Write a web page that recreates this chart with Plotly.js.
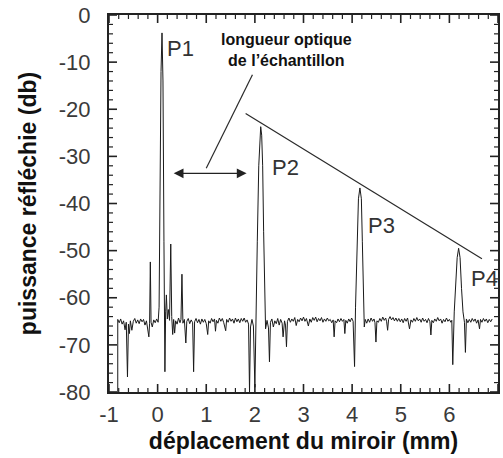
<!DOCTYPE html>
<html>
<head>
<meta charset="utf-8">
<script src="https://cdn.plot.ly/plotly-3.0.1.min.js"></script>
<style>html,body{margin:0;padding:0;background:#fff;}</style>
</head>
<body>
<div id="chart"></div>
<script>
// mirror displacement (mm) and reflected power (dB)
const displacement = [
-0.82,-0.82,-0.79,-0.76,-0.73,-0.70,-0.67,-0.645,-0.62,-0.60,-0.58,-0.56,-0.53,-0.50,-0.47,-0.44,-0.41,-0.38,-0.35,-0.32,-0.29,-0.26,-0.23,-0.20,-0.18,-0.165,-0.15,-0.135,-0.11,-0.08,-0.05,-0.02,
0.01,0.03,0.05,0.07,0.09,0.11,0.13,0.15,0.165,0.18,0.20,0.22,0.245,0.27,0.29,0.31,0.33,0.35,0.37,0.40,0.43,0.46,0.48,0.50,0.52,0.55,0.58,0.60,0.63,0.66,0.69,0.72,0.74,0.76,0.79,0.82,0.85,0.88,0.91,0.94,0.97,
1.00,1.03,1.05,1.08,1.11,1.14,1.17,1.19,1.21,1.24,1.27,1.30,1.33,1.36,1.40,1.42,1.45,1.48,1.51,1.54,1.57,1.60,1.63,1.66,1.69,1.72,1.75,1.78,1.81,1.84,1.87,1.89,1.91,1.94,1.97,
2.00,2.02,2.05,2.08,2.10,2.12,2.14,2.16,2.18,2.20,2.22,2.25,2.28,2.30,2.32,2.35,2.38,2.41,2.44,2.47,2.50,2.53,2.56,2.58,2.61,2.63,2.65,2.67,2.70,2.73,2.76,2.79,2.82,2.85,2.88,2.91,2.94,2.97,
3.00,3.03,3.06,3.10,3.13,3.16,3.19,3.22,3.25,3.28,3.31,3.34,3.37,3.40,3.43,3.46,3.49,3.52,3.55,3.58,3.61,3.63,3.65,3.68,3.71,3.74,3.77,3.80,3.83,3.85,3.87,3.90,3.93,3.96,3.99,
4.02,4.05,4.07,4.10,4.13,4.16,4.19,4.21,4.23,4.25,4.27,4.30,4.33,4.36,4.39,4.42,4.45,4.47,4.49,4.51,4.54,4.57,4.60,4.63,4.66,4.69,4.71,4.73,4.75,4.78,4.81,4.84,4.87,4.90,4.93,4.96,4.99,
5.02,5.05,5.08,5.11,5.14,5.18,5.21,5.24,5.27,5.30,5.33,5.36,5.39,5.42,5.45,5.48,5.51,5.54,5.57,5.60,5.62,5.64,5.67,5.70,5.73,5.76,5.79,5.82,5.85,5.88,5.91,5.94,5.97,
6.00,6.03,6.05,6.07,6.10,6.13,6.16,6.19,6.22,6.25,6.28,6.31,6.33,6.35,6.38,6.41,6.44,6.47,6.50,6.53,6.56,6.59,6.62,6.64,6.67,6.70,6.73,6.76,6.79,6.82,6.85,6.88
];
const powerDb = [
-80,-64.6,-65.3,-64.5,-65.6,-64.9,-66.8,-65.2,-76.8,-65.6,-67.6,-64.9,-66.9,-65.0,-64.4,-65.4,-64.7,-65.5,-64.5,-65.1,-64.6,-65.8,-64.9,-67.6,-68.3,-65.4,-52.4,-65.2,-66.2,-64.7,-65.3,-64.5,
-65.2,-62.0,-35,-12,-3.8,-14,-48,-75.7,-63.0,-59.4,-64.5,-62.5,-64.8,-48.6,-64.0,-67.8,-64.6,-67.5,-64.9,-65.6,-64.3,-65.3,-64.6,-55.0,-65.4,-64.6,-69.6,-65.0,-64.4,-65.5,-64.7,-65.3,-75.7,-65.1,-64.4,-65.3,-64.6,-65.6,-64.5,-65.2,-64.6,
-65.5,-67.8,-64.9,-65.4,-64.4,-65.1,-64.5,-67.1,-64.8,-65.4,-64.3,-65.0,-64.4,-65.3,-67.0,-64.6,-65.2,-64.3,-65.0,-64.5,-65.4,-64.3,-65.1,-64.5,-65.3,-64.4,-65.0,-64.3,-65.2,-64.7,-65.6,-80,-66.2,-64.6,-66.0,
-79.0,-63.0,-48,-32,-25.5,-23.7,-25.5,-32,-46,-62,-66.6,-64.8,-66.4,-73.6,-65.2,-64.5,-66.2,-64.9,-65.5,-64.4,-65.8,-64.6,-65.4,-68.3,-64.9,-65.8,-70.4,-65.0,-64.3,-65.2,-64.5,-65.0,-64.2,-65.9,-64.6,-65.1,-64.3,-64.9,
-64.1,-65.0,-64.4,-66.0,-64.5,-65.2,-64.2,-64.8,-64.1,-65.1,-64.4,-64.9,-64.2,-65.2,-64.5,-65.0,-64.3,-64.9,-64.6,-65.3,-64.7,-68.3,-64.9,-65.3,-64.5,-65.1,-64.4,-65.0,-64.6,-67.6,-64.8,-65.4,-64.5,-65.1,-64.3,
-65.0,-74.6,-62,-48,-39,-36.7,-39,-48,-60,-66.2,-64.6,-65.4,-64.5,-65.2,-64.3,-65.0,-64.5,-65.3,-69.4,-64.9,-65.2,-64.4,-65.0,-64.1,-64.8,-64.3,-65.1,-66.9,-64.6,-64.0,-64.7,-64.2,-64.9,-64.3,-65.0,-64.4,-65.1,
-64.5,-65.3,-64.4,-65.0,-64.3,-66.6,-64.7,-65.2,-64.4,-65.0,-64.2,-64.9,-64.5,-65.2,-64.3,-65.0,-64.6,-65.3,-64.4,-65.1,-67.9,-64.8,-65.3,-64.5,-65.0,-64.2,-64.9,-64.5,-65.4,-64.6,-65.1,-64.3,-65.0,
-64.6,-65.2,-64.8,-74.2,-63,-58,-51.5,-49.5,-51.5,-58,-63,-65.2,-71.6,-64.5,-65.3,-64.6,-65.2,-64.4,-65.0,-64.5,-65.4,-64.7,-66.6,-64.6,-65.2,-64.4,-65.0,-64.5,-65.3,-64.6,-65.1,-64.5
];

// tick labels
const xTickVals = [-1,0,1,2,3,4,5,6,7];
const xTickText = ['-1','0','1','2','3','4','5','6','7'];
const yTickVals = [0,-10,-20,-30,-40,-50,-60,-70,-80];
const yTickText = ['0','-10','-20','-30','-40','-50','-60','-70','-80'];

// peak labels
const peakNames = ['P1','P2','P3','P4'];
const peakLabelX = [0.47, 2.62, 4.61, 6.72];
const peakLabelY = [-7.2, -32.4, -44.6, -56.0];

// annotation guide lines (data coordinates)
const envelopeX = [1.81, 6.67];
const envelopeY = [-20.9, -51.7];
const pointerX = [1.95, 1.00];
const pointerY = [-12.7, -32.5];
const thicknessX = [0.30, 1.83];
const thicknessY = [-33.6, -33.6];
const noteText = 'longueur optique<br>de l\u2019échantillon';
const noteX = 2.65, noteY = -7.4;

const FONT = 'Liberation Sans, Arial, Helvetica, sans-serif';
const TICK = '#222';

// minor tick positions (every 0.2 mm and every 2 dB)
const xMinorVals = [];
for (let i = -5; i <= 35; i++) if (i % 5 !== 0) xMinorVals.push(i / 5);
const yMinorVals = [];
for (let i = -40; i <= 0; i++) if (i % 5 !== 0) yMinorVals.push(2 * i);

// inside tick marks on all four sides, placed through the axis scales
const shapes = [];
function xTick(v, len, w) {
  shapes.push({type: 'line', xref: 'x', yref: 'paper', x0: v, x1: v,
    ysizemode: 'pixel', yanchor: 0, y0: 0, y1: len, line: {color: TICK, width: w}});
  shapes.push({type: 'line', xref: 'x', yref: 'paper', x0: v, x1: v,
    ysizemode: 'pixel', yanchor: 1, y0: 0, y1: -len, line: {color: TICK, width: w}});
}
function yTick(v, len, w) {
  shapes.push({type: 'line', yref: 'y', xref: 'paper', y0: v, y1: v,
    xsizemode: 'pixel', xanchor: 0, x0: 0, x1: len, line: {color: TICK, width: w}});
  shapes.push({type: 'line', yref: 'y', xref: 'paper', y0: v, y1: v,
    xsizemode: 'pixel', xanchor: 1, x0: 0, x1: -len, line: {color: TICK, width: w}});
}
xTickVals.forEach(v => xTick(v, 8, 1.6));
xMinorVals.forEach(v => xTick(v, 4, 1.2));
yTickVals.forEach(v => yTick(v, 8, 1.6));
yMinorVals.forEach(v => yTick(v, 4, 1.2));

const traces = [
  {x: displacement, y: powerDb, type: 'scatter', mode: 'lines',
   line: {color: '#1a1a1a', width: 1}, showlegend: false},
  {x: envelopeX, y: envelopeY, type: 'scatter', mode: 'lines',
   line: {color: '#2a2a2a', width: 1.2}, showlegend: false},
  {x: pointerX, y: pointerY, type: 'scatter', mode: 'lines',
   line: {color: '#2a2a2a', width: 1.2}, showlegend: false}
];

const annotations = peakNames.map((t, i) => ({
  x: peakLabelX[i], y: peakLabelY[i], xref: 'x', yref: 'y', text: t,
  showarrow: false, font: {family: FONT, size: 22, color: '#333'}
}));
annotations.push({
  x: noteX, y: noteY, xref: 'x', yref: 'y', text: '<b>' + noteText + '</b>', showarrow: false,
  font: {family: FONT, size: 16, color: '#111'}
});
annotations.push({
  x: thicknessX[1], y: thicknessY[1], ax: thicknessX[0], ay: thicknessY[0],
  xref: 'x', yref: 'y', axref: 'x', ayref: 'y', text: '', showarrow: true,
  arrowside: 'end+start', arrowhead: 2, arrowsize: 1.4, arrowwidth: 1.4,
  arrowcolor: '#222', standoff: 0, startstandoff: 0
});

const layout = {
  width: 503, height: 458,
  margin: {l: 109, r: 5, t: 15, b: 66},
  showlegend: false,
  xaxis: {
    range: [-1, 7], tickmode: 'array', tickvals: xTickVals, ticktext: xTickText,
    showline: true, linecolor: '#222', linewidth: 2, mirror: true,
    ticks: 'outside', ticklen: 2, tickcolor: 'rgba(0,0,0,0)',
    showgrid: false, zeroline: false,
    tickfont: {family: FONT, size: 22, color: '#3a3a3a'},
    title: {text: '<b>déplacement du miroir (mm)</b>', standoff: 6,
            font: {family: FONT, size: 23, color: '#111'}}
  },
  yaxis: {
    range: [-80, 0], tickmode: 'array', tickvals: yTickVals, ticktext: yTickText,
    showline: true, linecolor: '#222', linewidth: 2, mirror: true,
    ticks: 'outside', ticklen: 12, tickcolor: 'rgba(0,0,0,0)',
    showgrid: false, zeroline: false,
    tickfont: {family: FONT, size: 22, color: '#3a3a3a'},
    title: {text: '<b>puissance réfléchie (db)</b>', standoff: 16,
            font: {family: FONT, size: 23, color: '#111'}}
  },
  shapes: shapes,
  annotations: annotations
};

Plotly.newPlot('chart', traces, layout, {staticPlot: true});
</script>
</body>
</html>
